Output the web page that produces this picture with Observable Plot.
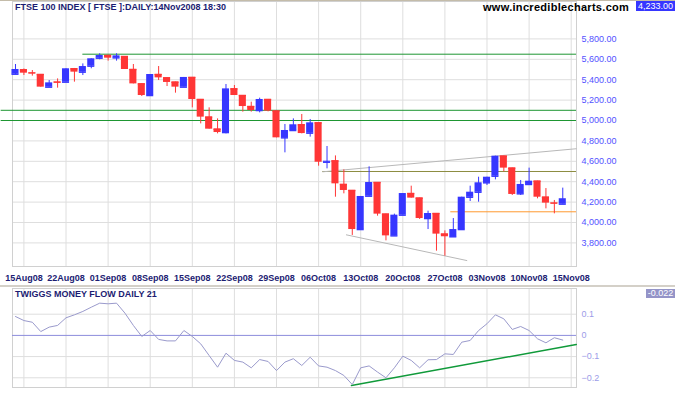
<!DOCTYPE html>
<html>
<head>
<meta charset="utf-8">
<script src="https://cdn.jsdelivr.net/npm/d3@7"></script>
<script src="https://cdn.jsdelivr.net/npm/@observablehq/plot@0.6"></script>
<style>
  html, body { margin: 0; padding: 0; background: #fff; }
  #wrap { position: relative; width: 675px; height: 395px; overflow: hidden; font-family: "Liberation Sans", Arial, sans-serif; }
  .topline { position: absolute; left: 0; top: 0; width: 675px; height: 1px; background: #c4bcaa; }
  .sep { position: absolute; left: 0; top: 285px; width: 675px; height: 2px; background: #d4d0c8; }
  #topPanel { position: absolute; left: 0; top: 1px; }
  #botPanel { position: absolute; left: 0; top: 287px; }
  .ov { position: absolute; white-space: nowrap; }
  .title { left: 15px; top: 2px; font-size: 9px; line-height: 10px; font-weight: bold; color: #1c1c72; }
  .site { left: 483px; top: 1px; font-size: 11px; line-height: 12px; font-weight: bold; color: #000; letter-spacing: 0.3px; }
  .pbox { left: 636px; top: 1px; width: 39px; height: 10px; background: #3636ff; color: #fff; font-size: 9px; line-height: 10px; text-align: center; }
  .ititle { left: 15px; top: 289px; font-size: 9px; line-height: 10px; font-weight: bold; color: #1c1c72; }
  .vbox { left: 646px; top: 289px; width: 29px; height: 9px; background: #9494c8; color: #fff; font-size: 9px; line-height: 9px; text-align: center; }
</style>
</head>
<body>
<div id="wrap">
  <div class="topline"></div>
  <div id="topPanel"></div>
  <div class="sep"></div>
  <div id="botPanel"></div>
  <div class="ov title">FTSE 100 INDEX [ FTSE ]:DAILY:14Nov2008 18:30</div>
  <div class="ov site">www.incrediblecharts.com</div>
  <div class="ov pbox">4,233.00</div>
  <div class="ov ititle">TWIGGS MONEY FLOW DAILY 21</div>
  <div class="ov vbox">-0.022</div>
</div>
<script>
// ---- data (trading-day index 0 = 14Aug08 ... 65 = 14Nov08) ----
const opens  = [5454,5497,5466,5451,5327,5376,5376,5507,5474,5533,5611,5637,5614,5627,5500,5359,5245,5451,5418,5376,5327,5422,5206,5033,4915,4882,5310,5245,5137,5098,5206,5092,4830,4902,4958,4876,4977,4591,4604,4373,4314,3931,4258,4392,4082,3869,4072,4284,4239,4039,4088,3886,3860,3931,4248,4297,4389,4454,4650,4533,4281,4373,4405,4248,4190,4180];
const highs  = [5549,5505,5490,5451,5392,5408,5507,5510,5555,5605,5654,5640,5654,5627,5549,5359,5451,5529,5418,5376,5422,5422,5206,5124,5016,5353,5343,5245,5180,5219,5206,5092,4961,5016,5059,5010,4977,4745,4653,4516,4314,4255,4546,4392,4082,4082,4284,4356,4239,4111,4088,3918,4039,4248,4356,4444,4444,4650,4650,4533,4412,4533,4405,4333,4216,4337];
const lows   = [5450,5441,5435,5327,5327,5317,5376,5376,5441,5507,5595,5582,5582,5500,5359,5235,5245,5392,5333,5268,5327,5124,4967,4915,4869,4869,5245,5082,5082,5075,5085,4830,4683,4895,4869,4837,4552,4526,4248,4281,3873,3931,4258,4062,3820,3869,4072,4239,4030,3931,3719,3670,3860,3931,4206,4199,4363,4418,4497,4265,4265,4373,4232,4134,4085,4180];
const closes = [5500,5464,5462,5327,5369,5370,5507,5474,5529,5605,5637,5611,5634,5500,5359,5245,5451,5418,5373,5327,5422,5206,5033,4915,4882,5310,5245,5137,5098,5206,5092,4830,4902,4958,4872,4977,4591,4601,4379,4314,3931,4255,4392,4082,3869,4072,4284,4239,4039,4088,3886,3860,3931,4248,4297,4389,4444,4650,4533,4275,4373,4405,4248,4190,4187,4233];
const moneyFlow = [0.089,0.070,0.062,0.018,0.039,0.047,0.083,0.097,0.113,0.133,0.152,0.149,0.152,0.105,0.047,-0.005,0.023,-0.019,-0.026,-0.026,0.023,-0.005,-0.040,-0.095,-0.150,-0.084,-0.118,-0.126,-0.153,-0.114,-0.123,-0.166,-0.126,-0.110,-0.142,-0.103,-0.144,-0.150,-0.166,-0.189,-0.232,-0.153,-0.144,-0.173,-0.200,-0.153,-0.098,-0.118,-0.153,-0.115,-0.114,-0.087,-0.090,-0.032,-0.024,0.023,0.055,0.097,0.078,0.028,0.042,0.023,-0.016,-0.035,-0.011,-0.022];

const dateTickIndex = [1,6,11,16,21,26,31,36,41,46,51,56,61,66];
const dateTickLabels = ["15Aug08","22Aug08","01Sep08","08Sep08","15Sep08","22Sep08","29Sep08","06Oct08","13Oct08","20Oct08","27Oct08","03Nov08","10Nov08","15Nov08"];
const priceTicks = [3800,4000,4200,4400,4600,4800,5000,5200,5400,5600,5800];
const flowTicks = [-0.2,-0.1,0,0.1];

// horizontal levels: value and first index
const greenLevels = [{v: 5650, from: 8}, {v: 5100, from: -1.7}, {v: 5000, from: -1.7}];
const oliveLevel = [{v: 4500, from: 36.5}];
const orangeLevel = [{v: 4105, from: 51.7}];
// trend lines
const upperTrend = [{i: 36.5, v: 4497}, {i: 66.6, v: 4723}];
const lowerTrend = [{i: 39.3, v: 3879}, {i: 53.6, v: 3627}];
const flowTrend = [{i: 39.9, v: -0.236}, {i: 66.6, v: -0.043}];

// ---- build ----
const UP = "#3636ff", DOWN = "#ff3636";
const candles = opens.map((o, i) => ({i, open: o, high: highs[i], low: lows[i], close: closes[i], color: closes[i] >= o ? UP : DOWN}));
const flow = moneyFlow.map((v, i) => ({i, v}));
const xDomain = [-0.356, 66.63];
const labelOf = new Map(dateTickIndex.map((d, k) => [d, dateTickLabels[k]]));
const GRID = "#dedede";
const font = {fontFamily: "'Liberation Sans', Arial, sans-serif", fontSize: "9px", background: "white", overflow: "visible"};

const topChart = Plot.plot({
  width: 675, height: 284,
  marginLeft: 12, marginRight: 99, marginTop: 0, marginBottom: 19,
  style: font,
  x: {domain: xDomain},
  y: {domain: [3568.6, 6166.7]},
  marks: [
    Plot.gridX(dateTickIndex, {stroke: GRID, strokeOpacity: 1}),
    Plot.gridY(priceTicks, {stroke: GRID, strokeOpacity: 1}),
    Plot.frame({stroke: "#d0d0d0"}),
    Plot.axisX(dateTickIndex, {anchor: "bottom", tickSize: 0, tickPadding: 8, tickFormat: d => labelOf.get(d), fill: "#1c1c72", fontWeight: "bold", fontSize: 9, label: null}),
    Plot.axisY(priceTicks, {anchor: "right", tickSize: 0, tickPadding: 5, textAnchor: "start", tickFormat: d3.format(",.2f"), fill: "#5252ff", fontSize: 9, label: null}),
    Plot.ruleY(greenLevels, {y: "v", x1: "from", x2: xDomain[1], stroke: "#1e9632", strokeWidth: 1}),
    Plot.ruleY(oliveLevel, {y: "v", x1: "from", x2: xDomain[1], stroke: "#8c8c40", strokeWidth: 1}),
    Plot.ruleY(orangeLevel, {y: "v", x1: "from", x2: xDomain[1], stroke: "#ff9a30", strokeWidth: 1}),
    Plot.line(upperTrend, {x: "i", y: "v", stroke: "#b8b8b8", strokeWidth: 1}),
    Plot.line(lowerTrend, {x: "i", y: "v", stroke: "#b8b8b8", strokeWidth: 1}),
    Plot.ruleX(candles, {x: "i", y1: "low", y2: "high", stroke: "color", strokeWidth: 1}),
    Plot.rect(candles, {x1: d => d.i - 0.42, x2: d => d.i + 0.42, y1: "open", y2: "close", fill: "color"}),
    Plot.ruleY(candles, {y: "open", x1: d => d.i - 0.42, x2: d => d.i + 0.42, stroke: "color", strokeWidth: 1.5})
  ]
});
document.getElementById("topPanel").appendChild(topChart);

const botChart = Plot.plot({
  width: 675, height: 108,
  marginLeft: 12, marginRight: 99, marginTop: 1, marginBottom: 8,
  style: font,
  x: {domain: xDomain, axis: null},
  y: {domain: [-0.2458, 0.2212]},
  marks: [
    Plot.gridX(dateTickIndex, {stroke: GRID, strokeOpacity: 1}),
    Plot.gridY([-0.2, -0.1, 0.1], {stroke: GRID, strokeOpacity: 1}),
    Plot.frame({stroke: "#d0d0d0"}),
    Plot.ruleY([0], {stroke: "#8c8cdc", strokeWidth: 1}),
    Plot.axisY(flowTicks, {anchor: "right", tickSize: 0, tickPadding: 5, textAnchor: "start", tickFormat: d => d3.format("")(d), fill: "#9c9ce8", fontSize: 9, label: null}),
    Plot.line(flowTrend, {x: "i", y: "v", stroke: "#109a3a", strokeWidth: 1.5}),
    Plot.line(flow, {x: "i", y: "v", stroke: "#9a9acc", strokeWidth: 1})
  ]
});
document.getElementById("botPanel").appendChild(botChart);
</script>
</body>
</html>
